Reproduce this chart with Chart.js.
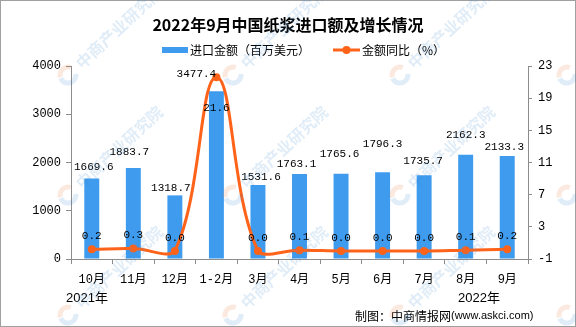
<!DOCTYPE html>
<html>
<head>
<meta charset="utf-8">
<script src="https://cdn.jsdelivr.net/npm/chart.js@4"></script>
<style>
  html, body { margin: 0; padding: 0; background: #fff; }
  #wrap { width: 576px; height: 327px; position: relative; }
</style>
</head>
<body>
<div id="wrap"><canvas id="c" width="576" height="327"></canvas></div>
<script>
// Monthly pulp imports: value (million USD) and year-on-year change (%)
const months = ['10月', '11月', '12月', '1-2月', '3月', '4月', '5月', '6月', '7月', '8月', '9月'];
const importValue = [1669.6, 1883.7, 1318.7, 3477.4, 1531.6, 1763.1, 1765.6, 1796.3, 1735.7, 2162.3, 2133.3];
const yoyChange = [0.2, 0.3, 0.0, 21.6, 0.0, 0.1, 0.0, 0.0, 0.0, 0.1, 0.2];
const leftTicks = [0, 1000, 2000, 3000, 4000];
const rightTicks = [-1, 3, 7, 11, 15, 19, 23];
const yearLabels = ['2021年', '2022年'];

const TITLE = '2022年9月中国纸浆进口额及增长情况';
const SOURCE_CN = '制图：中商情报网';
const SOURCE_URL = '(www.askci.com)';
const WATERMARK = '中商产业研究院';

const BAR_COLOR = '#3E9BEE';
const LINE_COLOR = '#FF631A';
const AXIS_COLOR = '#8c8c8c';
const NUM_FONT = "'Liberation Mono', 'Noto Sans CJK SC', monospace";
const CJK_FONT = "'Noto Sans CJK SC', sans-serif";

// hand-placed nudges for the bar value labels (px): horizontal shift, gap above bar top
const barLabelDx = [2, -4, -4, 0, 3, -3, -1.5, 0, -1, 0, -3];
const barLabelGap = [11, 16, 7, 0, 8, 10, 20, 28, 14, 20, 9];

// white page + outer frame
const pagePlugin = {
  id: 'page',
  beforeDraw(chart) {
    const ctx = chart.ctx;
    ctx.save();
    ctx.fillStyle = '#fff';
    ctx.fillRect(0, 0, chart.width, chart.height);
    ctx.restore();
  },
  afterDraw(chart) {
    const ctx = chart.ctx;
    ctx.save();
    ctx.strokeStyle = '#a0a0a0';
    ctx.lineWidth = 1;
    ctx.strokeRect(0.5, 0.5, chart.width - 1, chart.height - 1);
    ctx.restore();
  }
};

// title, legend, year markers and source line
const decorPlugin = {
  id: 'decor',
  afterDraw(chart) {
    const ctx = chart.ctx;
    const area = chart.chartArea;
    ctx.save();
    ctx.fillStyle = '#000';
    ctx.textBaseline = 'middle';

    ctx.font = "bold 16px " + CJK_FONT;
    ctx.textAlign = 'center';
    ctx.fillText(TITLE, chart.width / 2, 25);

    // legend
    const ds = chart.data.datasets;
    ctx.font = "12px " + CJK_FONT;
    ctx.textAlign = 'left';
    ctx.fillStyle = BAR_COLOR;
    ctx.fillRect(162, 47, 26, 6);
    ctx.fillStyle = '#000';
    ctx.fillText(ds[0].label, 190, 50);

    ctx.strokeStyle = LINE_COLOR;
    ctx.lineWidth = 3;
    ctx.beginPath();
    ctx.moveTo(333, 50);
    ctx.lineTo(360, 50);
    ctx.stroke();
    ctx.fillStyle = LINE_COLOR;
    ctx.beginPath();
    ctx.arc(346.5, 50, 4, 0, Math.PI * 2);
    ctx.fill();
    ctx.fillStyle = '#000';
    ctx.fillText(ds[1].label, 362, 50);

    // year markers under the axis
    ctx.font = "13px 'Liberation Sans', 'Noto Sans CJK SC', sans-serif";
    ctx.fillText(yearLabels[0], area.left - 5, 298);
    ctx.fillText(yearLabels[1], area.right - 70, 298);

    // source
    ctx.font = "12px " + CJK_FONT;
    ctx.fillText(SOURCE_CN, 355, 316);
    const w = ctx.measureText(SOURCE_CN).width;
    ctx.font = "11px 'Liberation Sans', sans-serif";
    ctx.fillText(SOURCE_URL, 355 + w, 316);
    ctx.restore();
  }
};

// value labels for bars and line points
const labelPlugin = {
  id: 'valueLabels',
  afterDatasetsDraw(chart) {
    const ctx = chart.ctx;
    const bars = chart.getDatasetMeta(0).data;
    const pts = chart.getDatasetMeta(1).data;
    ctx.save();
    ctx.font = "11px " + NUM_FONT;
    ctx.fillStyle = '#000';
    ctx.textAlign = 'center';
    ctx.textBaseline = 'middle';
    bars.forEach((bar, i) => {
      const p = pts[i];
      let bx = bar.x + barLabelDx[i], by = bar.y - barLabelGap[i];
      let px = p.x, py = p.y - 13;
      if (p.y < bar.y) {
        // point sits above the bar: bar value moves beside the peak, rate goes inside
        bx = bar.x - 20;
        by = p.y - 3;
        py = p.y + 31;
      }
      ctx.fillText(importValue[i].toFixed(1), bx, by);
      ctx.fillText(yoyChange[i].toFixed(1), px, py);
    });
    ctx.restore();
  }
};

// faint diagonal watermark
const watermarkPlugin = {
  id: 'watermark',
  afterDraw(chart) {
    const ctx = chart.ctx;
    const xs = [-98, 68, 233, 400, 567];
    const ys = [-45, 75, 195, 315];
    ctx.save();
    ctx.globalAlpha = 0.16;
    ctx.textBaseline = 'middle';
    ctx.textAlign = 'left';
    ctx.font = "bold 16px " + CJK_FONT;
    xs.forEach(x => ys.forEach(y => {
      ctx.save();
      ctx.translate(x, y);
      ctx.rotate(-43 * Math.PI / 180);
      ctx.lineWidth = 5;
      ctx.strokeStyle = '#E8783A';
      ctx.beginPath();
      ctx.arc(0, 0, 8, -Math.PI * 0.85, -Math.PI * 0.15);
      ctx.stroke();
      ctx.strokeStyle = '#3C8BD0';
      ctx.beginPath();
      ctx.arc(0, 0, 8, Math.PI * 0.2, Math.PI * 1.1);
      ctx.stroke();
      ctx.fillStyle = '#3C8BD0';
      ctx.fillText(WATERMARK, 14, 0);
      ctx.restore();
    }));
    ctx.restore();
  }
};

const tickFont = { family: NUM_FONT, size: 12 };

new Chart(document.getElementById('c'), {
  data: {
    labels: months,
    datasets: [
      {
        type: 'bar',
        label: '进口金额（百万美元）',
        data: importValue,
        backgroundColor: BAR_COLOR,
        barPercentage: 0.36,
        categoryPercentage: 1,
        yAxisID: 'y',
        order: 2
      },
      {
        type: 'line',
        label: '金额同比（%）',
        data: yoyChange,
        borderColor: LINE_COLOR,
        backgroundColor: LINE_COLOR,
        borderWidth: 3,
        pointRadius: 4,
        pointHoverRadius: 4,
        pointBorderWidth: 0,
        tension: 0.4,
        clip: false,
        yAxisID: 'y1',
        order: 1
      }
    ]
  },
  options: {
    responsive: false,
    devicePixelRatio: 1,
    animation: false,
    layout: { padding: { top: 66, left: 0, right: 0, bottom: 0 } },
    plugins: {
      legend: { display: false },
      title: { display: false },
      tooltip: { enabled: false }
    },
    scales: {
      x: {
        offset: true,
        grid: { display: true, drawOnChartArea: false, drawTicks: true, tickLength: 5, color: AXIS_COLOR, offset: true },
        border: { display: true, color: AXIS_COLOR },
        ticks: { font: tickFont, color: '#000', padding: 9, maxRotation: 0, autoSkip: false },
        afterFit(s) { s.height = 68; }
      },
      y: {
        position: 'left',
        min: 0,
        max: 4000,
        afterBuildTicks(s) { s.ticks = leftTicks.map(v => ({ value: v })); },
        grid: { drawOnChartArea: false, drawTicks: true, tickLength: 5, color: AXIS_COLOR },
        border: { display: true, color: AXIS_COLOR },
        ticks: { font: tickFont, color: '#000', padding: 5, callback: v => String(v) },
        afterFit(s) { s.width = 71; }
      },
      y1: {
        position: 'right',
        min: -1,
        max: 23,
        afterBuildTicks(s) { s.ticks = rightTicks.map(v => ({ value: v })); },
        grid: { drawOnChartArea: false, drawTicks: true, tickLength: 4, color: AXIS_COLOR },
        border: { display: true, color: AXIS_COLOR },
        ticks: { font: tickFont, color: '#000', padding: 6, callback: v => String(v) },
        afterFit(s) { s.width = 48; }
      }
    }
  },
  plugins: [pagePlugin, labelPlugin, decorPlugin, watermarkPlugin]
});
</script>
</body>
</html>
